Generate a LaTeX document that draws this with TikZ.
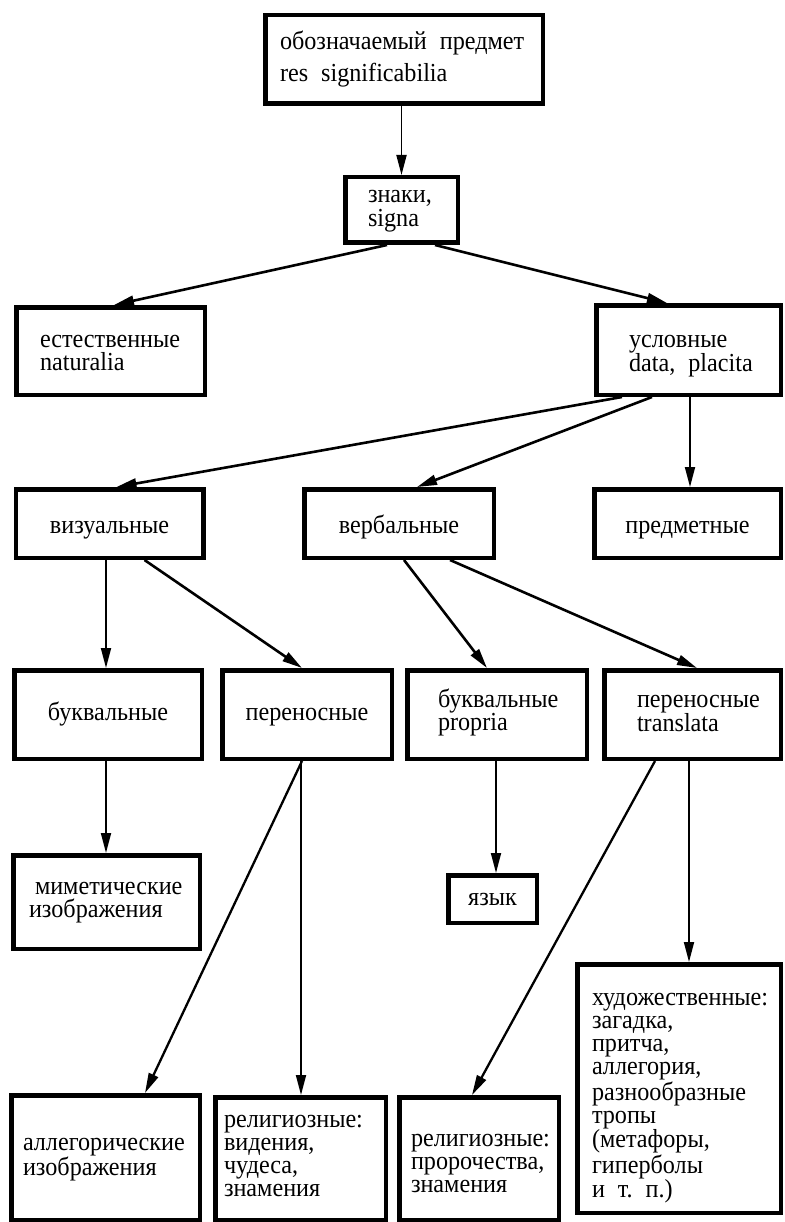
\documentclass[tikz,border=0pt]{standalone}
\usepackage{fontspec}
\setmainfont{Liberation Serif}[FakeStretch=0.93]
\usetikzlibrary{arrows.meta}
\hyphenpenalty=10000
\exhyphenpenalty=10000
\tikzset{
  box/.style={draw=black, line width=4.5pt, rectangle, inner ysep=0pt,
    font=\fontsize{26}{23.3}\selectfont, align=left, text height=12pt},
  cbox/.style={box, align=center, inner xsep=0pt, text depth=0pt},
  arr/.style={line width=1.8pt, -{Triangle[length=20pt,width=10pt]}},
  darr/.style={arr, line width=2.6pt},
}
\begin{document}
\begin{tikzpicture}[x=1pt,y=-1pt]
\useasboundingbox (0,0) rectangle (784,1222);
\fill[white] (0,0) rectangle (784,1222);

% boxes
\node[box, minimum width=277.5pt, minimum height=88.5pt, inner xsep=14.75pt, text width=248pt,
  font=\fontsize{26}{32}\selectfont, text depth=31pt] (top) at (404,59.5)
  {обозначаемый~\,предмет\\res~\,significabilia};
\node[box, minimum width=112.5pt, minimum height=65.5pt, inner xsep=22.75pt, text width=67pt, text depth=26pt] (znaki) at (401.5,210)
  {знаки,\\signa};
\node[box, minimum width=188.5pt, minimum height=87.5pt, inner xsep=23.75pt, text width=141pt, text depth=20pt] (est) at (110.5,351)
  {естественные\\naturalia};
\node[box, minimum width=184.5pt, minimum height=89.5pt, inner xsep=32.75pt, text width=119pt, text depth=18pt] (usl) at (688.5,350)
  {условные\\data,~\,placita};

\node[cbox, minimum width=187.5pt, minimum height=68.5pt, text height=19pt] (viz) at (109.5,523.5) {визуальные};
\node[cbox, minimum width=189.5pt, minimum height=68.5pt, text height=19pt] (verb) at (399,523.5) {вербальные};
\node[cbox, minimum width=186.5pt, minimum height=68.5pt, text height=19pt] (pred) at (687.5,523.5) {предметные};

\node[cbox, minimum width=187.5pt, minimum height=88.5pt] (bukv) at (108,714.5) {буквальные};
\node[cbox, minimum width=169.5pt, minimum height=88.5pt] (pern) at (307,714.5) {переносные};
\node[box, minimum width=179.5pt, minimum height=88.5pt, inner xsep=30.75pt, text width=118pt, text depth=27pt] (propria) at (497,714.5)
  {буквальные\\propria};
\node[box, minimum width=176.5pt, minimum height=88.5pt, inner xsep=32.75pt, text width=111pt, text depth=27pt] (transl) at (692.5,714.5)
  {переносные\\translata};

\node[box, minimum width=186.5pt, minimum height=93.5pt, inner xsep=15.75pt, text width=155pt, text depth=28pt] (mimet) at (106.5,902)
  {\hspace*{6pt}миметические\\изображения};
\node[cbox, minimum width=88.5pt, minimum height=47.5pt] (yazyk) at (492.5,899) {язык};
\node[box, minimum width=203.5pt, minimum height=248.5pt, inner xsep=14.75pt, text width=174pt, text depth=179pt] (khud) at (679,1088.5)
  {художественные:\\загадка,\\притча,\\аллегория,\\разнообразные\\тропы\\(метафоры,\\гиперболы\\и~\,т.~\,п.)};

\node[box, minimum width=188.5pt, minimum height=124.5pt, inner xsep=11.75pt, text width=165pt, text depth=27pt] (alleg) at (105.5,1157.5)
  {аллегорические\\изображения};
\node[box, minimum width=170.5pt, minimum height=122.5pt, inner xsep=8.75pt, text width=153pt, text depth=75pt] (relig1) at (300.5,1158.5)
  {религиозные:\\видения,\\чудеса,\\знамения};
\node[box, minimum width=159.5pt, minimum height=122.5pt, inner xsep=11.75pt, text width=136pt, text depth=37pt] (relig2) at (479,1158.5)
  {религиозные:\\пророчества,\\знамения};

% connectors
\draw[arr] (top.south -| znaki.north) -- (znaki.north);
\draw[darr] ([xshift=44pt]znaki.south west) -- ([xshift=100pt]est.north west);
\draw[darr] ([xshift=92pt]znaki.south west) -- ([xshift=73pt]usl.north west);
\draw[darr] ([xshift=28pt]usl.south west) -- ([xshift=103pt]viz.north west);
\draw[darr] ([xshift=58pt]usl.south west) -- ([xshift=115pt]verb.north west);
\draw[arr] ([xshift=96pt]usl.south west) -- ([xshift=98pt]pred.north west);
\draw[arr] ([xshift=94pt]bukv.north west |- viz.south) -- ([xshift=94pt]bukv.north west);
\draw[darr] ([xshift=131pt]viz.south west) -- ([xshift=82pt]pern.north west);
\draw[darr] ([xshift=102pt]verb.south west) -- ([xshift=82pt]propria.north west);
\draw[darr] ([xshift=148pt]verb.south west) -- ([xshift=95pt]transl.north west);
\draw[arr] ([xshift=94pt]bukv.south west) -- ([xshift=95pt]mimet.north west);
\draw[darr, line width=2.3pt] ([xshift=82pt]pern.south west) -- ([xshift=136pt]alleg.north west);
\draw[arr] ([xshift=81pt]pern.south west) -- ([xshift=88pt]relig1.north west);
\draw[arr] ([xshift=91pt]propria.south west) -- ([xshift=50pt]yazyk.north west);
\draw[darr, line width=2.3pt] ([xshift=53pt]transl.south west) -- ([xshift=75pt]relig2.north west);
\draw[arr] ([xshift=87pt]transl.south west) -- ([xshift=114pt]khud.north west);
\end{tikzpicture}
\end{document}
